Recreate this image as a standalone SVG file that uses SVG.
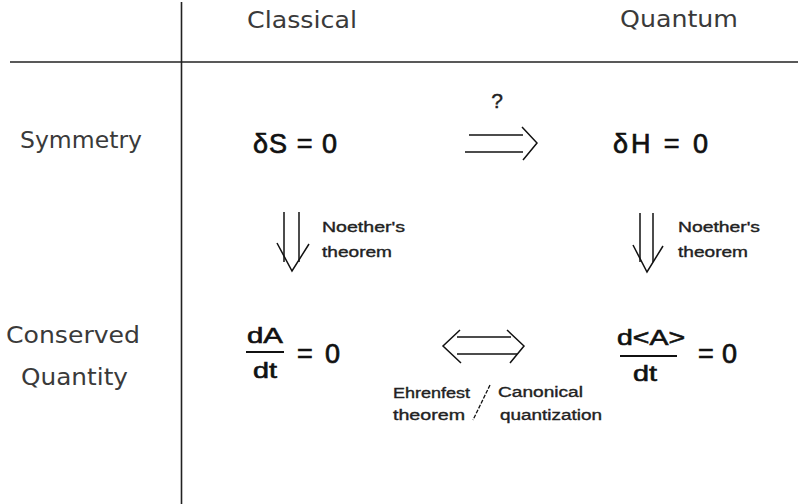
<svg xmlns="http://www.w3.org/2000/svg" width="798" height="504" viewBox="0 0 798 504">
<style>
.hdr{font-family:"DejaVu Sans","Liberation Sans",sans-serif;font-size:23px;fill:#3a3a3a}
.math{font-family:"Liberation Sans","DejaVu Sans",sans-serif;font-size:27px;fill:#111;stroke:#111;stroke-width:0.7}
.frac{font-family:"Liberation Sans","DejaVu Sans",sans-serif;font-size:22px;fill:#111;stroke:#111;stroke-width:0.6}
.small{font-family:"Liberation Sans","DejaVu Sans",sans-serif;font-size:14px;fill:#222;stroke:#222;stroke-width:0.35}
.q{font-family:"Liberation Sans","DejaVu Sans",sans-serif;font-size:21px;fill:#222;stroke:#222;stroke-width:0.4}
.ln{stroke:#222;stroke-width:1.6;fill:none}
.ar{stroke:#111;stroke-width:1.5;fill:none}
</style>
<rect width="798" height="504" fill="#fff"/>
<g id="grid">
<line class="ln" x1="181.5" y1="2" x2="181.5" y2="504"/>
<line class="ln" x1="10" y1="62" x2="798" y2="62"/>
</g>
<g id="headers">
<text class="hdr" x="247" y="28" textLength="110" lengthAdjust="spacingAndGlyphs">Classical</text>
<text class="hdr" x="620" y="27" textLength="118" lengthAdjust="spacingAndGlyphs">Quantum</text>
<text class="hdr" x="20" y="148" textLength="122" lengthAdjust="spacingAndGlyphs">Symmetry</text>
<text class="hdr" x="6" y="343" textLength="134" lengthAdjust="spacingAndGlyphs">Conserved</text>
<text class="hdr" x="21" y="385" textLength="107" lengthAdjust="spacingAndGlyphs">Quantity</text>
</g>
<g id="node-dS">
<text class="math" x="253" y="153" textLength="84" lengthAdjust="spacing">δS = 0</text>
</g>
<g id="node-dH">
<text class="math" x="613" y="153" textLength="95" lengthAdjust="spacing">δH = 0</text>
</g>
<g id="node-dAdt">
<text class="frac" x="247" y="343" textLength="36" lengthAdjust="spacingAndGlyphs">dA</text>
<line x1="246" y1="352" x2="284" y2="352" stroke="#111" stroke-width="2"/>
<text class="frac" x="253" y="378" textLength="24" lengthAdjust="spacingAndGlyphs">dt</text>
<text class="math" x="297" y="363" textLength="43" lengthAdjust="spacing">= 0</text>
</g>
<g id="node-dAQdt">
<text class="frac" x="617" y="345" textLength="68" lengthAdjust="spacingAndGlyphs">d&lt;A&gt;</text>
<line x1="620" y1="356" x2="677" y2="356" stroke="#111" stroke-width="2"/>
<text class="frac" x="633" y="381" textLength="24" lengthAdjust="spacingAndGlyphs">dt</text>
<text class="math" x="698" y="363" textLength="39" lengthAdjust="spacing">= 0</text>
</g>
<g id="connectors">
<line class="ar" x1="469" y1="135" x2="523" y2="135"/>
<line class="ar" x1="465" y1="152" x2="523" y2="152"/>
<polyline class="ar" points="522,127 537,143 523,160"/>
<text class="q" x="497" y="108" text-anchor="middle">?</text>
<line class="ar" x1="284" y1="212" x2="284" y2="262"/>
<line class="ar" x1="299" y1="212" x2="299" y2="262"/>
<polyline class="ar" points="277,243 292,271 309,244"/>
<text class="small" x="322" y="232" textLength="83" lengthAdjust="spacingAndGlyphs">Noether's</text>
<text class="small" x="322" y="257" textLength="70" lengthAdjust="spacingAndGlyphs">theorem</text>
<line class="ar" x1="640" y1="213" x2="640" y2="262"/>
<line class="ar" x1="653" y1="213" x2="653" y2="262"/>
<polyline class="ar" points="633,245 647,272 663,246"/>
<text class="small" x="678" y="232" textLength="82" lengthAdjust="spacingAndGlyphs">Noether's</text>
<text class="small" x="678" y="257" textLength="70" lengthAdjust="spacingAndGlyphs">theorem</text>
<line class="ar" x1="457" y1="337" x2="511" y2="337"/>
<line class="ar" x1="457" y1="354" x2="517" y2="354"/>
<polyline class="ar" points="460,330 443,346 461,363"/>
<polyline class="ar" points="507,330 524,346 510,363"/>
<text class="small" x="393" y="398" textLength="77" lengthAdjust="spacingAndGlyphs">Ehrenfest</text>
<text class="small" x="393" y="420" textLength="72" lengthAdjust="spacingAndGlyphs">theorem</text>
<line x1="490" y1="385" x2="473" y2="420" stroke="#111" stroke-width="1.3" stroke-dasharray="4 1.5"/>
<text class="small" x="498" y="397" textLength="85" lengthAdjust="spacingAndGlyphs">Canonical</text>
<text class="small" x="500" y="420" textLength="102" lengthAdjust="spacingAndGlyphs">quantization</text>
</g>
</svg>
